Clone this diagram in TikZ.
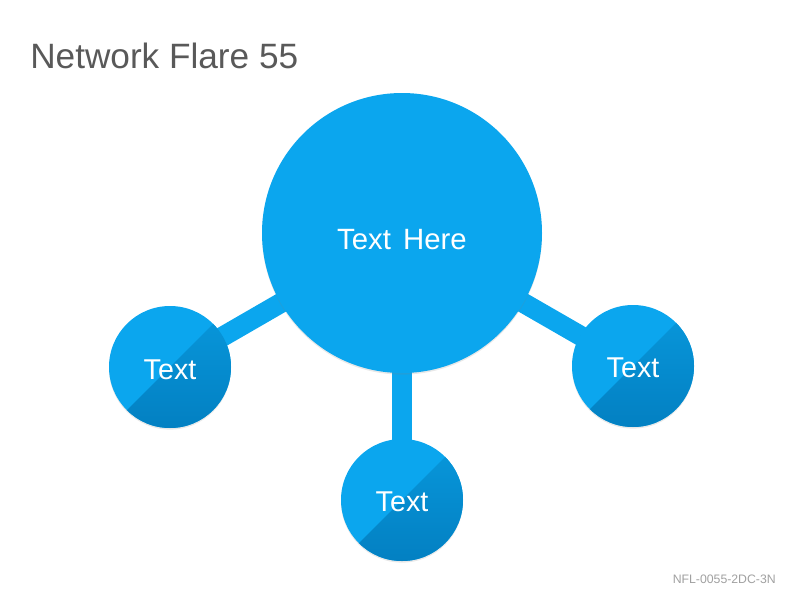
\documentclass[tikz,border=0pt]{standalone}
\usepackage{fontspec}
\setmainfont{Liberation Sans}
\usetikzlibrary{backgrounds,shadows}
\definecolor{flarelight}{HTML}{0BA6EE}
\definecolor{flaretop}{HTML}{0898DC}
\definecolor{flarebottom}{HTML}{0380C2}
\definecolor{titlegray}{HTML}{595959}
\definecolor{footgray}{HTML}{A0A0A0}
\tikzset{
  hub/.style={circle, inner sep=0pt, minimum size=210pt, fill=flarelight,
    text=white, font=\fontsize{22}{25}\selectfont, text depth=0pt,
    drop shadow={opacity=0.18, shadow xshift=0pt, shadow yshift=-1.2pt}},
  leaf/.style={circle, inner sep=0pt, minimum size=91.5pt, fill=flarelight,
    text=white, font=\fontsize{21.5}{24}\selectfont, text depth=0pt,
    drop shadow={opacity=0.18, shadow xshift=0pt, shadow yshift=-1.2pt},
    path picture={\shade[top color=flaretop, bottom color=flarebottom]
      (path picture bounding box.south west) -- (path picture bounding box.north east)
      -- (path picture bounding box.south east) -- cycle;}},
  bar/.style={draw=flarelight, line width=15pt},
  title/.style={anchor=base west, text=titlegray, font=\fontsize{26.4}{30}\selectfont, inner sep=0pt},
  foot/.style={anchor=base east, text=footgray, font=\fontsize{9.2}{11}\selectfont, inner sep=0pt}
}
\begin{document}
\begin{tikzpicture}[x=0.75pt, y=-0.75pt]
\useasboundingbox (0,0) rectangle (800,600);
\node[title] (ttl) at (30,68) {Network Flare 55};
\node[foot] (ft) at (776,583) {NFL-0055-2DC-3N};
\node[hub, text height=24.5pt] (hub) at (402,233) {Text\hspace{3pt} Here};
\node[leaf, text height=19pt] (left) at (170,367) {Text};
\node[leaf, text height=16.5pt] (bottom) at (402,500) {Text};
\node[leaf, text height=17.5pt] (right) at (633,366) {Text};
\begin{pgfonlayer}{background}
\draw[bar] (hub.center) -- (left.center);
\draw[bar] (hub.center) -- (bottom.center);
\draw[bar] (hub.center) -- (right.center);
\end{pgfonlayer}
\end{tikzpicture}
\end{document}
